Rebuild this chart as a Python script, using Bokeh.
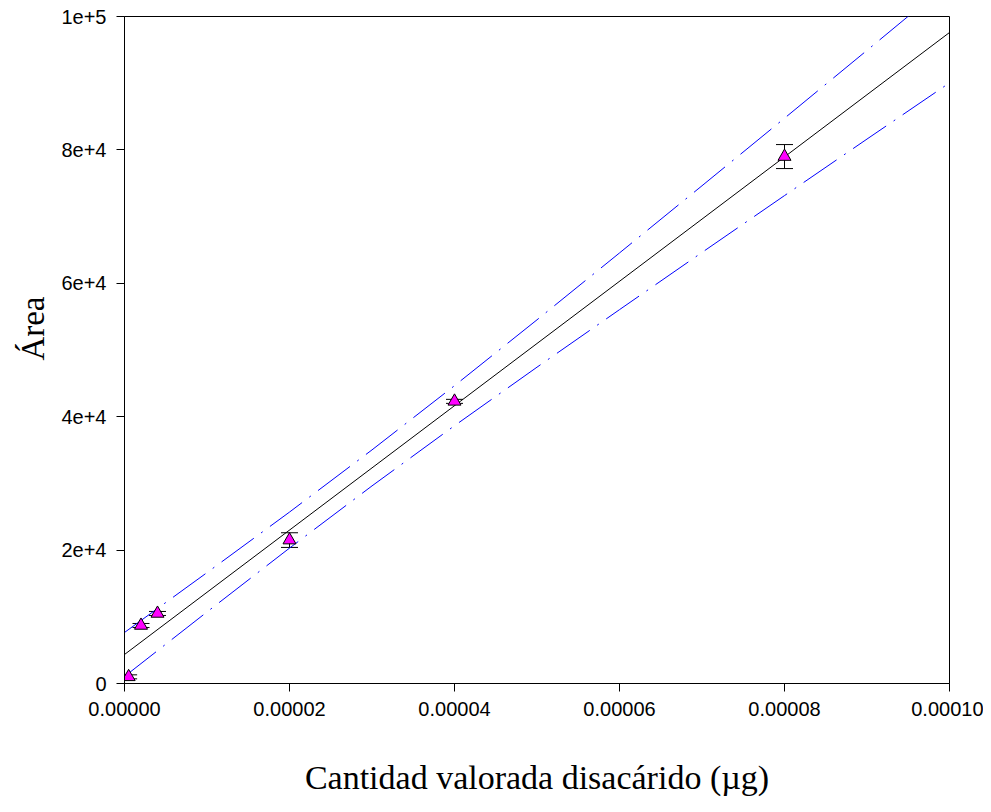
from bokeh.plotting import figure
from bokeh.models import Range1d, FixedTicker, ColumnDataSource, Whisker, TeeHead, Title
from bokeh.embed import file_html
from bokeh.resources import INLINE

# Measured points
conc = [5e-7, 2e-6, 4e-6, 2e-5, 4e-5, 8e-5]
area = [1000, 8700, 10500, 21500, 42300, 79000]
area_err = [300, 300, 300, 1100, 300, 1800]

# Regression line
fit_x = [0.0, 1e-4]
fit_y = [4350, 97600]

# Confidence band
band_x = [0.0, 1e-5, 2e-5, 3e-5, 4e-5, 5e-5, 6e-5, 7e-5, 8e-5, 9e-5, 1e-4]
band_upper = [7650, 16625, 25700, 35025, 44650, 54525, 64550, 74625, 84750, 94925, 105150]
band_lower = [1050, 10725, 20300, 29625, 38650, 47425, 56050, 64625, 73150, 81625, 90050]

# Tick labels
x_ticks = [0.0, 2e-5, 4e-5, 6e-5, 8e-5, 1e-4]
x_tick_labels = ["0.00000", "0.00002", "0.00004", "0.00006", "0.00008", "0.00010"]
y_ticks = [0, 20000, 40000, 60000, 80000, 100000]
y_tick_labels = ["0", "2e+4", "4e+4", "6e+4", "8e+4", "1e+5"]

x_title = "Cantidad valorada disacárido (µg)"
y_title = "Área"

p = figure(frame_width=825, frame_height=667,
           min_border_left=124, min_border_right=34, min_border_top=16, min_border_bottom=113,
           x_range=Range1d(0, 1e-4), y_range=Range1d(0, 100000),
           output_backend="svg", toolbar_location=None)

p.xgrid.visible = False
p.ygrid.visible = False
p.outline_line_color = "black"
p.outline_line_width = 1
p.background_fill_color = "white"
p.border_fill_color = "white"

for ax, ticks, labels in ((p.xaxis[0], x_ticks, x_tick_labels), (p.yaxis[0], y_ticks, y_tick_labels)):
    ax.ticker = FixedTicker(ticks=ticks)
    ax.major_label_overrides = {t: l for t, l in zip(ticks, labels)}
    ax.minor_tick_line_color = None
    ax.major_tick_out = 8
    ax.major_tick_in = 0
    ax.axis_line_color = "black"
    ax.major_tick_line_color = "black"
    ax.major_label_text_font = "Liberation Sans"
    ax.major_label_text_font_size = "20px"
    ax.major_label_text_color = "black"
    ax.axis_label_text_font = "Liberation Serif"
    ax.axis_label_text_font_size = "34px"
    ax.axis_label_text_font_style = "normal"
    ax.axis_label_text_color = "black"

p.xaxis[0].axis_label = x_title
p.xaxis[0].major_label_standoff = 10
p.yaxis[0].major_label_standoff = 10
p.xaxis[0].axis_label_standoff = 40

# y-axis title, slightly above the axis centre as in the reference
p.add_layout(Title(text=y_title, align="right", offset=280, standoff=16,
                   text_font="Liberation Serif", text_font_size="33px",
                   text_font_style="normal", text_color="black"), "left")

p.line(band_x, band_upper, line_color="#0000FF", line_width=1, line_dash="40 9 2 9")
p.line(band_x, band_lower, line_color="#0000FF", line_width=1, line_dash="40 9 2 9")
p.line(fit_x, fit_y, line_color="black", line_width=1)

src = ColumnDataSource(data=dict(
    x=conc, y=area,
    upper=[a + e for a, e in zip(area, area_err)],
    lower=[a - e for a, e in zip(area, area_err)],
))
wh = Whisker(base="x", upper="upper", lower="lower", source=src,
             line_color="black", line_width=1,
             upper_head=TeeHead(size=17, line_color="black", line_width=1),
             lower_head=TeeHead(size=17, line_color="black", line_width=1))
wh.level = "underlay"
p.add_layout(wh)

p.scatter("x", "y", source=src, marker="triangle", size=13,
          fill_color="#FF00FF", line_color="black", line_width=1)

open("out.html", "w").write(file_html(p, INLINE))
